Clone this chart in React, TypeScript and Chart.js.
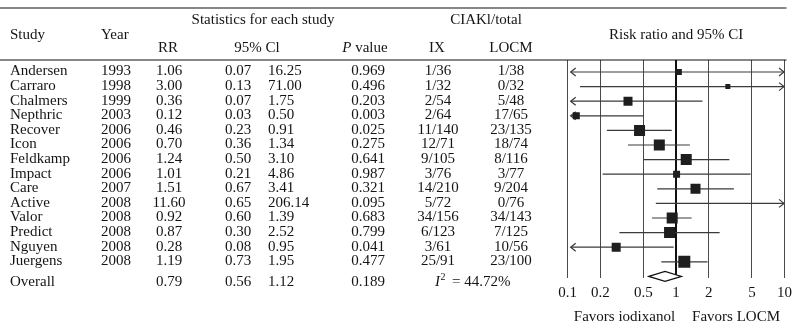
import React, { useEffect, useRef } from 'react';
import { Chart, registerables } from 'chart.js';

Chart.register(...registerables);

const studies = ['Andersen', 'Carraro', 'Chalmers', 'Nepthric', 'Recover', 'Icon', 'Feldkamp', 'Impact', 'Care', 'Active', 'Valor', 'Predict', 'Nguyen', 'Juergens'];
const years = ['1993', '1998', '1999', '2003', '2006', '2006', '2006', '2006', '2007', '2008', '2008', '2008', '2008', '2008'];
const riskRatios = [1.06, 3.0, 0.36, 0.12, 0.46, 0.7, 1.24, 1.01, 1.51, 11.6, 0.92, 0.87, 0.28, 1.19];
const ciLower = [0.07, 0.13, 0.07, 0.03, 0.23, 0.36, 0.5, 0.21, 0.67, 0.65, 0.6, 0.3, 0.08, 0.73];
const ciUpper = [16.25, 71.0, 1.75, 0.5, 0.91, 1.34, 3.1, 4.86, 3.41, 206.14, 1.39, 2.52, 0.95, 1.95];
const pValues = ['0.969', '0.496', '0.203', '0.003', '0.025', '0.275', '0.641', '0.987', '0.321', '0.095', '0.683', '0.799', '0.041', '0.477'];
const ixEvents = ['1/36', '1/32', '2/54', '2/64', '11/140', '12/71', '9/105', '3/76', '14/210', '5/72', '34/156', '6/123', '3/61', '25/91'];
const locmEvents = ['1/38', '0/32', '5/48', '17/65', '23/135', '18/74', '8/116', '3/77', '9/204', '0/76', '34/143', '7/125', '10/56', '23/100'];
const studyWeights = [6, 5, 9, 7, 11, 11, 11, 7, 10, 3, 11, 11, 9, 12];

const overallRR = 0.79;
const overallLower = 0.56;
const overallUpper = 1.12;
const overallP = '0.189';
const i2Value = '44.72%';

const xTickValues = [0.1, 0.2, 0.5, 1, 2, 5, 10];
const xMin = 0.1;
const xMax = 10;

const FONT = '"Liberation Serif", "Times New Roman", serif';
const TEXT = '#141414';

function drawText(ctx: CanvasRenderingContext2D, s: string, x: number, y: number, align: CanvasTextAlign, italic = false, size = 15) {
  ctx.font = `${italic ? 'italic ' : ''}${size}px ${FONT}`;
  ctx.textAlign = align;
  ctx.textBaseline = 'middle';
  ctx.fillStyle = TEXT;
  ctx.fillText(s, x, y);
}

const forestPlugin = {
  id: 'forest',
  beforeDatasetsDraw(chart: any) {
    const { ctx, chartArea } = chart;
    const xs = chart.scales.x;
    const ys = chart.scales.y;
    ctx.save();
    ctx.strokeStyle = '#3a3a3a';
    ctx.lineWidth = 1.2;
    studies.forEach((_, i) => {
      const py = ys.getPixelForValue(i);
      const leftArrow = ciLower[i] < xMin;
      const rightArrow = ciUpper[i] > xMax;
      const x0 = leftArrow ? chartArea.left + 3 : xs.getPixelForValue(ciLower[i]);
      const x1 = rightArrow ? chartArea.right - 0.5 : xs.getPixelForValue(ciUpper[i]);
      ctx.beginPath();
      ctx.moveTo(x0, py);
      ctx.lineTo(x1, py);
      ctx.stroke();
      if (leftArrow) {
        ctx.beginPath();
        ctx.moveTo(x0 + 5, py - 4);
        ctx.lineTo(x0, py);
        ctx.lineTo(x0 + 5, py + 4);
        ctx.stroke();
      }
      if (rightArrow) {
        ctx.beginPath();
        ctx.moveTo(x1 - 5, py - 4);
        ctx.lineTo(x1, py);
        ctx.lineTo(x1 - 5, py + 4);
        ctx.stroke();
      }
    });
    ctx.restore();
  },
  afterDraw(chart: any) {
    const { ctx, chartArea } = chart;
    const xs = chart.scales.x;
    const ys = chart.scales.y;
    ctx.save();

    // rules
    ctx.strokeStyle = '#111';
    ctx.lineWidth = 1.2;
    ctx.beginPath();
    ctx.moveTo(0, 8);
    ctx.lineTo(chartArea.right + 2, 8);
    ctx.moveTo(0, chartArea.top);
    ctx.lineTo(chartArea.right + 2, chartArea.top);
    ctx.stroke();

    // headers
    drawText(ctx, 'Statistics for each study', 263, 20, 'center');
    drawText(ctx, 'CIAKl/total', 486, 20, 'center');
    drawText(ctx, 'Study', 10, 35, 'left');
    drawText(ctx, 'Year', 101, 35, 'left');
    drawText(ctx, 'Risk ratio and 95% CI', xs.getPixelForValue(1), 35, 'center');
    drawText(ctx, 'RR', 168, 48.5, 'center');
    drawText(ctx, '95% Cl', 257, 48.5, 'center');
    ctx.font = `15px ${FONT}`;
    const vw = ctx.measureText(' value').width;
    ctx.font = `italic 15px ${FONT}`;
    const pw = ctx.measureText('P').width;
    const pStart = 365 - (vw + pw) / 2;
    drawText(ctx, 'P', pStart, 48.5, 'left', true);
    drawText(ctx, ' value', pStart + pw, 48.5, 'left');
    drawText(ctx, 'IX', 437, 48.5, 'center');
    drawText(ctx, 'LOCM', 511, 48.5, 'center');

    // rows
    studies.forEach((name, i) => {
      const py = ys.getPixelForValue(i) - 0.5;
      drawText(ctx, name, 10, py, 'left');
      drawText(ctx, years[i], 101, py, 'left');
      drawText(ctx, riskRatios[i].toFixed(2), 169, py, 'center');
      drawText(ctx, ciLower[i].toFixed(2), 225, py, 'left');
      drawText(ctx, ciUpper[i].toFixed(2), 268, py, 'left');
      drawText(ctx, pValues[i], 368, py, 'center');
      drawText(ctx, ixEvents[i], 438, py, 'center');
      drawText(ctx, locmEvents[i], 511, py, 'center');
    });

    // overall
    const oy = ys.getPixelForValue(studies.length);
    const ty = oy + 6;
    drawText(ctx, 'Overall', 10, ty, 'left');
    drawText(ctx, overallRR.toFixed(2), 169, ty, 'center');
    drawText(ctx, overallLower.toFixed(2), 225, ty, 'left');
    drawText(ctx, overallUpper.toFixed(2), 268, ty, 'left');
    drawText(ctx, overallP, 368, ty, 'center');
    drawText(ctx, 'I', 435, ty, 'left', true);
    ctx.font = `italic 15px ${FONT}`;
    const iw = ctx.measureText('I').width;
    drawText(ctx, '2', 435 + iw + 0.5, ty - 5, 'left', false, 10);
    drawText(ctx, '= ' + i2Value, 452, ty, 'left');

    // diamond
    const dl = xs.getPixelForValue(overallLower);
    const dc = xs.getPixelForValue(overallRR);
    const dr = xs.getPixelForValue(overallUpper);
    ctx.beginPath();
    ctx.moveTo(dl, oy);
    ctx.lineTo(dc, oy - 5);
    ctx.lineTo(dr, oy);
    ctx.lineTo(dc, oy + 5);
    ctx.closePath();
    ctx.fillStyle = '#ffffff';
    ctx.fill();
    ctx.strokeStyle = '#111';
    ctx.lineWidth = 1.2;
    ctx.stroke();

    // favors labels
    const x1 = xs.getPixelForValue(1);
    drawText(ctx, 'Favors iodixanol', x1 - 1, 317, 'right');
    drawText(ctx, 'Favors LOCM', x1 + 16, 317, 'left');

    ctx.restore();
  },
};

export default function App() {
  const canvasRef = useRef<HTMLCanvasElement | null>(null);

  useEffect(() => {
    const canvas = canvasRef.current;
    if (!canvas) return;
    const chart = new Chart(canvas, {
      type: 'scatter',
      data: {
        datasets: [
          {
            label: 'Risk ratio',
            data: riskRatios.map((v, i) => ({ x: v, y: i })),
            pointStyle: 'rect',
            pointRadius: studyWeights.map((s) => s / Math.SQRT2),
            pointHoverRadius: studyWeights.map((s) => s / Math.SQRT2),
            backgroundColor: '#1e1e1e',
            borderWidth: 0,
          },
        ],
      },
      options: {
        responsive: false,
        animation: false,
        events: [],
        layout: { padding: { left: 567.7, right: 6, top: 60, bottom: 0 } },
        plugins: { legend: { display: false }, tooltip: { enabled: false } },
        scales: {
          x: {
            type: 'logarithmic',
            min: xMin,
            max: xMax,
            afterBuildTicks: (scale: any) => {
              scale.ticks = xTickValues.map((v) => ({ value: v }));
            },
            afterFit: (scale: any) => {
              scale.height = 51;
              scale.paddingLeft = 0;
              scale.paddingRight = 0;
            },
            ticks: {
              autoSkip: false,
              maxRotation: 0,
              padding: 6,
              color: TEXT,
              font: { family: FONT, size: 15 },
              callback: (value: any) => String(value),
            },
            grid: {
              drawTicks: false,
              color: (c: any) => (c.tick && c.tick.value === 1 ? '#111' : '#4a4a4a'),
              lineWidth: (c: any) => (c.tick && c.tick.value === 1 ? 2 : 1),
            },
            border: { display: false },
          },
          y: {
            type: 'linear',
            reverse: true,
            min: -0.822,
            max: 14.11,
            display: false,
          },
        },
      },
      plugins: [forestPlugin],
    });
    return () => chart.destroy();
  }, []);

  return (
    <div style={{ position: 'absolute', left: 0, top: 0, width: 793, height: 329, background: '#fff' }}>
      <canvas ref={canvasRef} width={793} height={329} style={{ display: 'block' }} />
    </div>
  );
}
